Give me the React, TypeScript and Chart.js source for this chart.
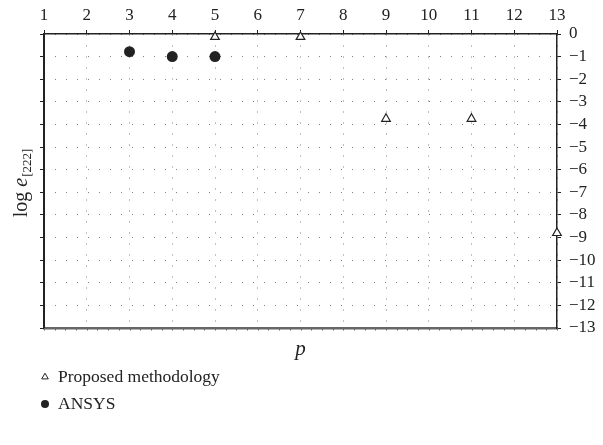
import { useEffect, useRef } from "react";
import { Chart, registerables } from "chart.js";

Chart.register(...registerables);

// Axis ticks
const pTicks = [1, 2, 3, 4, 5, 6, 7, 8, 9, 10, 11, 12, 13];
const logTicks = [0, -1, -2, -3, -4, -5, -6, -7, -8, -9, -10, -11, -12, -13];

// Series
const proposedP = [5, 7, 9, 11, 13];
const proposedLogE = [-0.13, -0.13, -3.75, -3.75, -8.8];
const ansysP = [3, 4, 5];
const ansysLogE = [-0.78, -1.0, -1.0];

const SERIF = '"Liberation Serif", "DejaVu Serif", serif';
const INK = "#222";
const GRID = "#808080";

const W = 603;
const H = 445;
const PLOT = { left: 44, right: 557, top: 34, bottom: 328 };

const decor = {
  id: "decor",
  afterDraw(chart: any) {
    const ctx: CanvasRenderingContext2D = chart.ctx;
    const { left, right, bottom } = chart.chartArea;
    const xb = chart.scales.xb;
    ctx.save();

    // minor ticks hanging under the bottom edge
    ctx.strokeStyle = "#666";
    ctx.lineWidth = 1;
    ctx.beginPath();
    for (let v = pTicks[0]; v <= pTicks[pTicks.length - 1] + 1e-9; v += 0.25) {
      const px = Math.round(xb.getPixelForValue(v)) + 0.5;
      ctx.moveTo(px, bottom);
      ctx.lineTo(px, bottom + 2.5);
    }
    ctx.stroke();

    // x axis title
    ctx.fillStyle = INK;
    ctx.font = `italic 21px ${SERIF}`;
    ctx.textAlign = "center";
    ctx.textBaseline = "alphabetic";
    ctx.fillText("p", (left + right) / 2, bottom + 27);

    // y axis title: log e with subscript [222]
    ctx.save();
    ctx.translate(27, 183);
    ctx.rotate(-Math.PI / 2);
    ctx.textAlign = "left";
    const main = "log ";
    const ee = "e";
    const sub = "[222]";
    ctx.font = `20px ${SERIF}`;
    const wMain = ctx.measureText(main).width;
    ctx.font = `italic 20px ${SERIF}`;
    const wE = ctx.measureText(ee).width;
    ctx.font = `13px ${SERIF}`;
    const wSub = ctx.measureText(sub).width;
    let x0 = -(wMain + wE + wSub + 1) / 2;
    ctx.font = `20px ${SERIF}`;
    ctx.fillText(main, x0, 0);
    x0 += wMain;
    ctx.font = `italic 20px ${SERIF}`;
    ctx.fillText(ee, x0, 0);
    x0 += wE + 1;
    ctx.font = `13px ${SERIF}`;
    ctx.fillText(sub, x0, 4);
    ctx.restore();

    // series key
    chart.data.datasets.forEach((ds: any, i: number) => {
      const cx = 45;
      const cy = 377 + i * 27;
      ctx.lineWidth = 1;
      ctx.strokeStyle = INK;
      if (ds.pointStyle === "triangle") {
        const r = 3.8;
        ctx.fillStyle = "#fff";
        ctx.beginPath();
        for (let k = 0; k < 3; k++) {
          const a = (k * 2 * Math.PI) / 3;
          const px = cx + Math.sin(a) * r;
          const py = cy - Math.cos(a) * r;
          if (k === 0) ctx.moveTo(px, py);
          else ctx.lineTo(px, py);
        }
        ctx.closePath();
        ctx.fill();
        ctx.stroke();
      } else {
        ctx.fillStyle = INK;
        ctx.beginPath();
        ctx.arc(cx, cy, 4, 0, Math.PI * 2);
        ctx.fill();
      }
      ctx.fillStyle = INK;
      ctx.font = `17.5px ${SERIF}`;
      ctx.textAlign = "left";
      ctx.textBaseline = "middle";
      ctx.fillText(ds.label, 58, cy);
    });

    ctx.restore();
  },
};

const minus = (v: number) => String(v).replace("-", "\u2212");

export default function App() {
  const ref = useRef<HTMLCanvasElement>(null);

  useEffect(() => {
    const canvas = ref.current;
    if (!canvas) return;
    const font = { family: SERIF, size: 17 };
    const chart = new Chart(canvas, {
      type: "scatter",
      data: {
        datasets: [
          {
            label: "Proposed methodology",
            data: proposedP.map((p, i) => ({ x: p, y: proposedLogE[i] })),
            pointStyle: "triangle",
            pointRadius: 5,
            backgroundColor: "#fff",
            borderColor: INK,
            borderWidth: 1.2,
            clip: false,
          },
          {
            label: "ANSYS",
            data: ansysP.map((p, i) => ({ x: p, y: ansysLogE[i] })),
            pointStyle: "circle",
            pointRadius: 5.5,
            backgroundColor: INK,
            borderColor: INK,
            borderWidth: 0,
            clip: false,
          },
        ] as any,
      },
      options: {
        animation: false,
        responsive: false,
        maintainAspectRatio: false,
        layout: { padding: 0 },
        plugins: { legend: { display: false }, tooltip: { enabled: false } },
        scales: {
          x: {
            type: "linear",
            position: "top",
            min: pTicks[0],
            max: pTicks[pTicks.length - 1],
            afterBuildTicks: (s: any) => {
              s.ticks = pTicks.map((v) => ({ value: v }));
            },
            afterFit: (s: any) => {
              s.height = PLOT.top;
            },
            ticks: { font, color: INK, padding: 4, maxRotation: 0, autoSkip: false },
            grid: { color: GRID, lineWidth: 1, tickLength: 4, tickColor: INK },
            border: { color: INK, width: 1.5, dash: [1, 10] },
          },
          xb: {
            type: "linear",
            position: "bottom",
            min: pTicks[0],
            max: pTicks[pTicks.length - 1],
            afterFit: (s: any) => {
              s.height = H - PLOT.bottom;
            },
            ticks: { display: false },
            grid: { drawOnChartArea: false, drawTicks: false },
            border: { color: "#666", width: 2.5 },
          },
          y: {
            type: "linear",
            position: "right",
            min: logTicks[logTicks.length - 1],
            max: logTicks[0],
            afterBuildTicks: (s: any) => {
              s.ticks = logTicks.map((v) => ({ value: v }));
            },
            afterFit: (s: any) => {
              s.width = W - PLOT.right;
            },
            ticks: {
              font,
              color: INK,
              padding: 8,
              autoSkip: false,
              callback: (v: any) => minus(Number(v)),
            },
            grid: { color: GRID, lineWidth: 1, tickLength: 4, tickColor: INK },
            border: { color: INK, width: 1.5, dash: [1, 10] },
          },
          yl: {
            type: "linear",
            position: "left",
            min: logTicks[logTicks.length - 1],
            max: logTicks[0],
            afterBuildTicks: (s: any) => {
              s.ticks = logTicks.map((v) => ({ value: v }));
            },
            afterFit: (s: any) => {
              s.width = PLOT.left;
            },
            ticks: { display: false, autoSkip: false },
            grid: { drawOnChartArea: false, tickLength: 4, tickColor: INK },
            border: { color: INK, width: 2 },
          },
        } as any,
      },
      plugins: [decor],
    });
    return () => chart.destroy();
  }, []);

  return (
    <div style={{ position: "fixed", left: 0, top: 0, width: W, height: H, background: "#fff" }}>
      <canvas ref={ref} width={W} height={H} style={{ width: W, height: H, display: "block" }} />
    </div>
  );
}
